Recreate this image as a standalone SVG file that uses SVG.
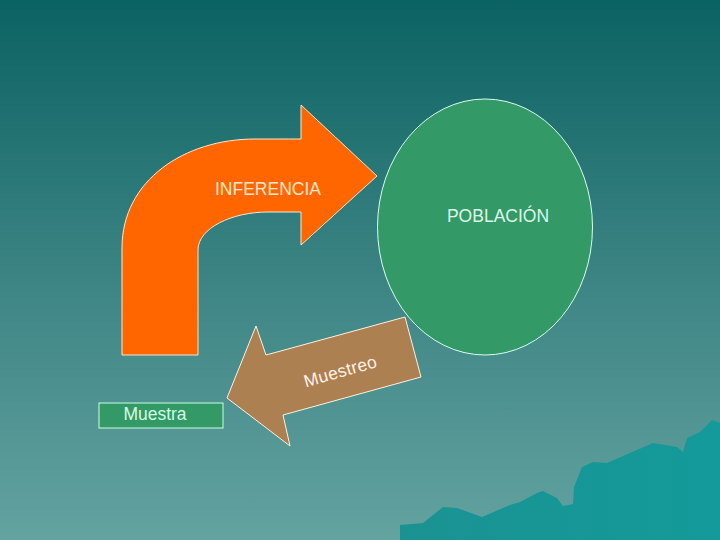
<svg xmlns="http://www.w3.org/2000/svg" width="720" height="540" viewBox="0 0 720 540">
<defs>
<linearGradient id="bg" x1="0" y1="0" x2="0" y2="1">
<stop offset="0" stop-color="#0b6262"/>
<stop offset="0.5" stop-color="#3b8383"/>
<stop offset="1" stop-color="#63a3a0"/>
</linearGradient>
<linearGradient id="mt" x1="0" y1="0" x2="1" y2="0">
<stop offset="0" stop-color="#1b9292"/>
<stop offset="1" stop-color="#139a9a"/>
</linearGradient>
<style>
.lbl{font-family:"Liberation Sans",Arial,sans-serif;font-size:17.5px}
</style>
</defs>
<rect x="0" y="0" width="720" height="540" fill="url(#bg)"/>
<polygon fill="url(#mt)" points="400,525 423,523 443,507 457,508 482,517 510,505 520,502 537,493 543,491 557,498 563,506 573,504 574,487 582,467 593,462 607,463 630,453 653,443 677,447 683,452 687,438 700,432 712,420 720,423 720,540 400,540"/>
<g id="inferencia">
<path d="M122 355 L122 248 C122 180 185 139 255 139 L301 139 L301 105 L377 176 L301 245 L301 212 L268 212 C232 212 198 228 198 250 L198 355 Z" fill="#ff6600" stroke="#ffe6c8" stroke-width="1"/>
<text class="lbl" x="268" y="195" text-anchor="middle" fill="#ffe6cc">INFERENCIA</text>
</g>
<g id="poblacion">
<ellipse cx="485" cy="227" rx="107.5" ry="128" fill="#339966" stroke="#d8fff0" stroke-width="1"/>
<text class="lbl" x="498" y="222" text-anchor="middle" fill="#dcf8ea">POBLACIÓN</text>
</g>
<g id="muestreo">
<polygon points="227,398 256,326 266,355 405,317 421,377 283,415 290,446" fill="#ad8052" stroke="#fff0e0" stroke-width="1"/>
<text class="lbl" x="342" y="377" text-anchor="middle" fill="#fff2e4" font-size="18.5" letter-spacing="0.3" transform="rotate(-16 342 377)">Muestreo</text>
</g>
<g id="muestra">
<rect x="99" y="403" width="124" height="25" fill="#339966" stroke="#c8ffe0" stroke-width="1"/>
<text class="lbl" x="155" y="420" text-anchor="middle" fill="#d0ffe4">Muestra</text>
</g>
</svg>
